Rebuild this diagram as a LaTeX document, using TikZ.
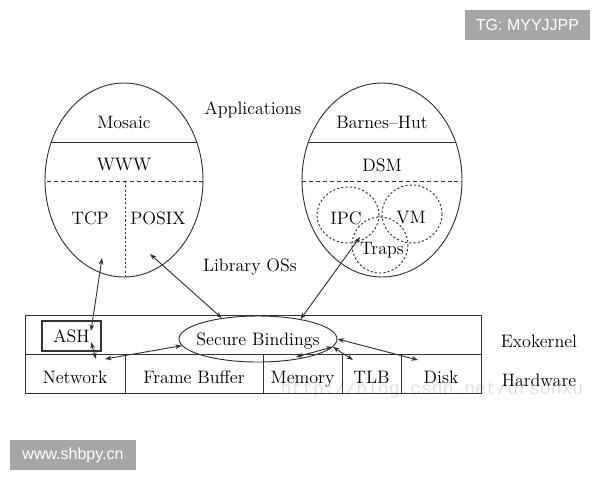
\documentclass[tikz,border=0pt]{standalone}
\usepackage{fontspec}
\newfontfamily\wmfont{Liberation Sans}
\newfontfamily\wmmono{Liberation Mono}
\usetikzlibrary{arrows.meta,shapes.geometric}
\newdimen\px
\px=0.75pt

\begin{document}
\begin{tikzpicture}[
    x=0.75pt, y=-0.75pt,
    every node/.style={font=\fontsize{13.5}{16}\selectfont},
    thinline/.style={line width=0.7pt, black!80},
    dashline/.style={thinline, dash pattern=on 3pt off 2.2pt},
    dotline/.style={thinline, dash pattern=on 1.6pt off 1.6pt},
    arr/.style={{Stealth[length=5pt,width=3.6pt]}-{Stealth[length=5pt,width=3.6pt]}, thinline},
    cell/.style={draw, thinline, text=black, minimum height=39\px, inner sep=0pt, text height=14.5pt, text depth=0pt},
    wmbox/.style={fill=black!35, text=white, inner sep=0pt, minimum height=30\px, font=\wmfont\fontsize{12}{14}\selectfont}
]
\fill[white] (0,0) rectangle (600,480);
\useasboundingbox (0,0) rectangle (600,480);

% faint watermark behind the drawing
\node[text=black!12, font=\wmmono\fontsize{13.5}{16}\selectfont] (csdnmark) at (432,390) {http://blog.csdn.net/drsonxu};

% library OSs
\draw[thinline] (124,180) ellipse [x radius=79, y radius=97];
\begin{scope}
  \clip (124,180) ellipse [x radius=79, y radius=97];
  \draw[thinline] (40,142) -- (210,142);
  \draw[dashline] (40,181) -- (210,181);
  \draw[dotline] (125,181) -- (125,280);
\end{scope}
\draw[thinline] (382,180) ellipse [x radius=80, y radius=97];
\begin{scope}
  \clip (382,180) ellipse [x radius=80, y radius=97];
  \draw[thinline] (295,142) -- (470,142);
  \draw[dashline] (295,181) -- (470,181);
\end{scope}
\draw[dotline] (348,215) ellipse [x radius=31, y radius=28];
\draw[dotline] (412,214) ellipse [x radius=30, y radius=29];
\draw[dotline] (380,245) ellipse [x radius=28, y radius=28];

\node (mosaic) at (124,122) {Mosaic};
\node (www) at (124,165) {WWW};
\node (tcp) at (90,218) {TCP};
\node (posix) at (158,218) {POSIX};
\node (barnes) at (382,122) {Barnes--Hut};
\node (dsm) at (382,165) {DSM};
\node (ipc) at (346,218) {IPC};
\node (vm) at (411,218) {VM};
\node (traps) at (382,250) {Traps};
\node[text depth=0pt] (apps) at (253,108) {Applications};
\node[text depth=0pt] (libos) at (250,265) {Library OSs};

% exokernel and hardware rows
\node[cell, minimum width=456\px] (exorow) at (253,334.5) {};
\node[cell, minimum width=100\px] (network) at (75,373.5) {Network};
\node[cell, minimum width=138\px] (fbuf) at (194,373.5) {Frame Buffer};
\node[cell, minimum width=79\px] (memory) at (302.5,373.5) {Memory};
\node[cell, minimum width=59\px] (tlb) at (371.5,373.5) {TLB};
\node[cell, minimum width=80\px] (disk) at (441,373.5) {Disk};
\node[text depth=0pt] (exo) at (539,341) {Exokernel};
\node[text depth=0pt] (hw) at (539,380) {Hardware};

\node[draw, line width=0.9pt, black!80, minimum width=59\px, minimum height=30\px, inner sep=0pt, text=black] (ash) at (71.5,336) {ASH};
\node[draw, thinline, ellipse, minimum width=158\px, minimum height=46\px, inner sep=0pt,
      label={[text=black, text depth=0pt]center:Secure Bindings}] (sb) at (258,339) {};

% free ends of the connectors
\coordinate (tcpend) at (102,258);
\coordinate (ashtop) at (91,331);
\coordinate (ashbot) at (91,342);
\coordinate (nettop) at (96,359);
\coordinate (netright) at (105,359);
\coordinate (posixend) at (150,254);
\coordinate (trapsend) at (360,237);
\coordinate (memend) at (296,357);
\coordinate (tlbend) at (353,360);
\coordinate (diskend) at (418,360);

\draw[arr] (tcpend) -- (ashtop);
\draw[arr] (ashbot) -- (nettop);
\draw[arr] (netright) -- (sb.185);
\draw[arr] (posixend) -- (sb.150);
\draw[arr] (trapsend) -- (sb.25);
\draw[arr] (memend) -- (sb.-6);
\draw[arr] (tlbend) -- (sb.-6);
\draw[arr] (diskend) -- (sb.east);

% watermark boxes
\node[wmbox, minimum width=125\px] (tgmark) at (527.5,25) {TG: MYYJJPP};
\node[wmbox, minimum width=126\px] (sitemark) at (73,455) {www.shbpy.cn};
\end{tikzpicture}
\end{document}
